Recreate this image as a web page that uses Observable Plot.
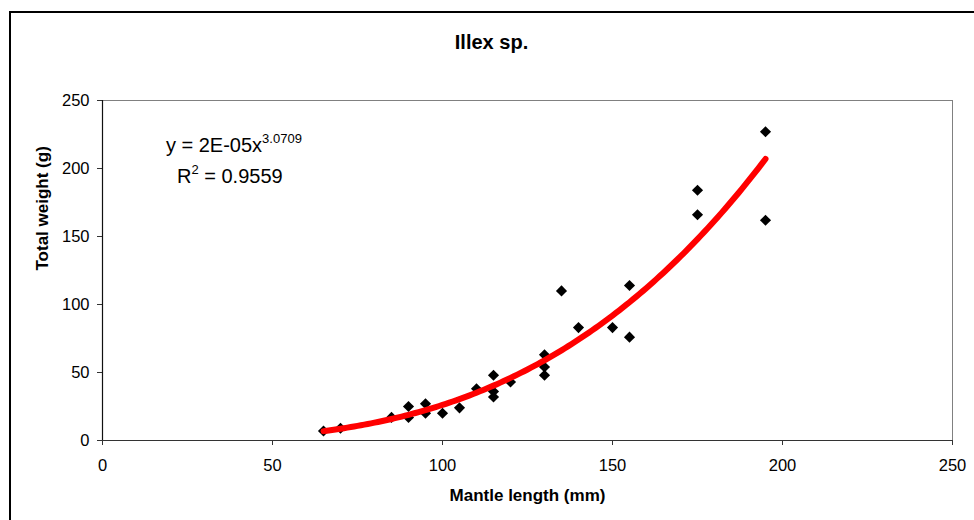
<!DOCTYPE html>
<html><head><meta charset="utf-8">
<script src="https://cdn.jsdelivr.net/npm/d3@7"></script>
<script src="https://cdn.jsdelivr.net/npm/@observablehq/plot@0.6"></script>
<style>
body{margin:0;background:#fff;overflow:hidden}
#wrap{position:relative;width:974px;height:520px;overflow:hidden;background:#fff}
#border{position:absolute;left:9px;top:11px;width:1000px;height:600px;border:2px solid #000;box-sizing:border-box}
#chart{position:absolute;left:0;top:0}
</style></head><body>
<div id="wrap"><div id="border"></div><div id="chart"></div></div>
<script>
const title = "Illex sp.";
const xLabel = "Mantle length (mm)";
const yLabel = "Total weight (g)";
const xTicks = [0, 50, 100, 150, 200, 250];
const yTicks = [0, 50, 100, 150, 200, 250];
const mantleLength = [65, 70, 85, 90, 90, 95, 95, 100, 105, 110, 115, 115, 115, 120, 130, 130, 130, 135, 140, 150, 155, 155, 175, 175, 195, 195];
const totalWeight  = [7, 9, 17, 25, 17, 27, 20, 20, 24, 38, 48, 36, 32, 43, 63, 54, 48, 110, 83, 83, 114, 76, 184, 166, 227, 162];
const eqMain = "y = 2E-05x";
const eqExp = "3.0709";
const r2Value = "0.9559";

const data = mantleLength.map((x, i) => ({x, y: totalWeight[i]}));
// power trendline fitted in log-log space (as Excel does)
const lx = data.map(d => Math.log(d.x)), ly = data.map(d => Math.log(d.y));
const mx = d3.mean(lx), my = d3.mean(ly);
const b = d3.sum(lx.map((v, i) => (v - mx) * (ly[i] - my))) / d3.sum(lx.map(v => (v - mx) ** 2));
const a = Math.exp(my - b * mx);
const [x0, x1] = d3.extent(mantleLength);
const fit = d3.range(0, 131).map(i => { const x = x0 + (x1 - x0) * i / 130; return {x, y: a * Math.pow(x, b)}; });

const font = "Liberation Sans, Arial, sans-serif";
const plot = Plot.plot({
  width: 974, height: 520,
  marginLeft: 102, marginRight: 22, marginTop: 100, marginBottom: 80,
  style: {fontFamily: font, fontSize: "16.5px", color: "#000", background: "transparent", overflow: "visible"},
  x: {domain: [0, 250]},
  y: {domain: [0, 250]},
  marks: [
    Plot.ruleY([250], {stroke: "#808080", strokeWidth: 1}),
    Plot.ruleX([250], {stroke: "#808080", strokeWidth: 1}),
    Plot.axisX({ticks: xTicks, tickSize: 5, tickPadding: 14, label: null, stroke: "#333", fontSize: 16.5}),
    Plot.axisY({ticks: yTicks, tickSize: 5, tickPadding: 8, label: null, stroke: "#333", fontSize: 16.5}),
    Plot.ruleY([0], {stroke: "#333", strokeWidth: 1.2}),
    Plot.ruleX([0], {stroke: "#111", strokeWidth: 1.2}),
    Plot.dot(data, {x: "x", y: "y", symbol: "diamond2", r: 5, fill: "#000", stroke: null}),
    Plot.line(fit, {x: "x", y: "y", stroke: "#ff0000", strokeWidth: 6}),
    Plot.text([title], {frameAnchor: "top", lineAnchor: "middle", dx: -36, dy: -58, fontWeight: "bold", fontSize: 20}),
    Plot.text([xLabel], {frameAnchor: "bottom", lineAnchor: "middle", dy: 55, fontWeight: "bold", fontSize: 17}),
    Plot.text([yLabel], {frameAnchor: "left", lineAnchor: "middle", rotate: -90, dx: -60, fontWeight: "bold", fontSize: 17})
  ]
});
document.getElementById("chart").appendChild(plot);

// trendline equation annotation, anchored in data coordinates
const sx = plot.scale("x"), sy = plot.scale("y");
const svg = d3.select(plot);
const g = svg.append("g").attr("font-family", font).attr("font-size", 20).attr("fill", "#000").attr("text-anchor", "middle");
const t1 = g.append("text").attr("x", sx.apply(38.8)).attr("y", sy.apply(211.8));
t1.append("tspan").text(eqMain);
t1.append("tspan").attr("font-size", 13).attr("dy", -9).text(eqExp);
const t2 = g.append("text").attr("x", sx.apply(37.6)).attr("y", sy.apply(189));
t2.append("tspan").text("R");
t2.append("tspan").attr("font-size", 13).attr("dy", -9).text("2");
t2.append("tspan").attr("dy", 9).text(" = " + r2Value);
</script>
</body></html>
